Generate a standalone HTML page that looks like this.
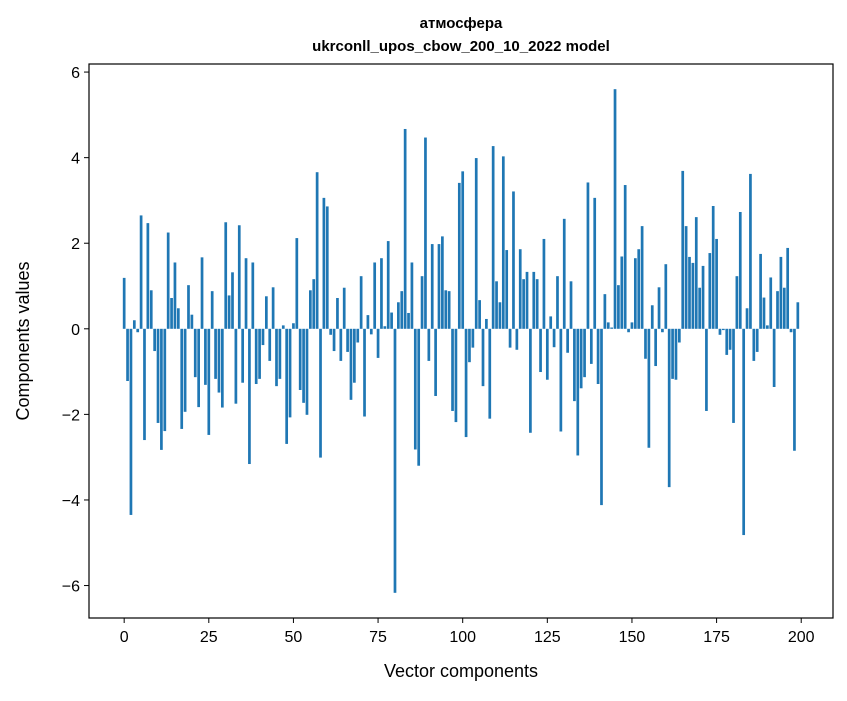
<!DOCTYPE html>
<html><head><meta charset="utf-8"><style>
body{margin:0;background:#fff;}
svg text{font-family:"Liberation Sans","DejaVu Sans",sans-serif;fill:#000;}
</style></head><body>
<svg id="chart" width="847" height="696" xmlns="http://www.w3.org/2000/svg">
<rect width="847" height="696" fill="#fff"/>
<text x="461" y="28" text-anchor="middle" font-size="15" font-weight="bold">атмосфера</text>
<text x="461" y="51" text-anchor="middle" font-size="15" font-weight="bold">ukrconll_upos_cbow_200_10_2022 model</text>
<g id="bars"></g>
<g id="xticks"></g>
<g id="yticks"></g>
<rect x="89" y="64" width="744" height="554" fill="none" stroke="#000" stroke-width="1.2"/>
<text x="461" y="677" text-anchor="middle" font-size="18">Vector components</text>
<text transform="translate(29,341) rotate(-90)" text-anchor="middle" font-size="18">Components values</text>
</svg>
<script>
const values = [
1.19,-1.22,-4.35,0.2,-0.08,2.65,-2.6,2.47,0.9,-0.52,
-2.2,-2.83,-2.39,2.25,0.72,1.55,0.48,-2.34,-1.94,1.02,
0.33,-1.13,-1.83,1.67,-1.31,-2.48,0.88,-1.17,-1.49,-1.84,
2.49,0.78,1.32,-1.75,2.42,-1.26,1.65,-3.16,1.55,-1.29,
-1.17,-0.38,0.76,-0.75,0.97,-1.34,-1.17,0.08,-2.69,-2.07,
0.13,2.12,-1.43,-1.73,-2.01,0.9,1.16,3.66,-3.01,3.06,
2.86,-0.14,-0.52,0.72,-0.75,0.96,-0.54,-1.66,-1.26,-0.32,
1.23,-2.05,0.32,-0.13,1.55,-0.68,1.65,0.06,2.05,0.38,
-6.17,0.62,0.88,4.67,0.37,1.55,-2.82,-3.2,1.23,4.47,
-0.75,1.98,-1.57,1.98,2.16,0.9,0.88,-1.92,-2.18,3.41,
3.68,-2.53,-0.78,-0.44,3.99,0.67,-1.34,0.23,-2.1,4.27,
1.11,0.62,4.03,1.84,-0.44,3.21,-0.49,1.86,1.16,1.33,
-2.43,1.33,1.16,-1.01,2.1,-1.19,0.29,-0.43,1.23,-2.4,
2.57,-0.56,1.11,-1.69,-2.96,-1.39,-1.13,3.42,-0.82,3.06,
-1.29,-4.12,0.81,0.15,0.03,5.6,1.02,1.69,3.36,-0.08,
0.15,1.65,1.86,2.4,-0.7,-2.78,0.55,-0.87,0.97,-0.08,
1.51,-3.7,-1.17,-1.19,-0.32,3.69,2.4,1.68,1.54,2.61,
0.96,1.47,-1.92,1.77,2.87,2.1,-0.14,-0.03,-0.61,-0.49,
-2.2,1.23,2.73,-4.82,0.48,3.62,-0.75,-0.54,1.75,0.73,
0.08,1.2,-1.36,0.88,1.68,0.96,1.89,-0.08,-2.85,0.62
];
const xTickValues = [0,25,50,75,100,125,150,175,200];
const yTickValues = [-6,-4,-2,0,2,4,6];

const NS = "http://www.w3.org/2000/svg";
const L=89,R=833,T=64,B=618;
const n = values.length;
const xmin = -0.4 - (n-0.2)*0.05, xmax = (n-1)+0.4 + (n-0.2)*0.05;
const vmin = Math.min(0,...values), vmax = Math.max(0,...values);
const ymin = vmin - (vmax-vmin)*0.05, ymax = vmax + (vmax-vmin)*0.05;
const xs = v => L + (v - xmin)/(xmax - xmin)*(R-L);
const ys = v => B - (v - ymin)/(ymax - ymin)*(B-T);

const bars = document.getElementById('bars');
values.forEach((v,i)=>{
  const r = document.createElementNS(NS,'rect');
  const x0 = xs(i-0.4), x1 = xs(i+0.4);
  const y0 = ys(Math.max(v,0)), y1 = ys(Math.min(v,0));
  r.setAttribute('x', x0); r.setAttribute('width', x1-x0);
  r.setAttribute('y', y0); r.setAttribute('height', Math.max(y1-y0,0.3));
  r.setAttribute('fill','#1f77b4');
  
  
  bars.appendChild(r);
});

const xg = document.getElementById('xticks');
xTickValues.forEach(t=>{
  const x = xs(t);
  const l = document.createElementNS(NS,'line');
  l.setAttribute('x1',x);l.setAttribute('x2',x);l.setAttribute('y1',B);l.setAttribute('y2',B+5);
  l.setAttribute('stroke','#000');
  
  
  xg.appendChild(l);
  const tx = document.createElementNS(NS,'text');
  tx.setAttribute('x',x);tx.setAttribute('y',B+24);tx.setAttribute('text-anchor','middle');tx.setAttribute('font-size','16');
  tx.textContent = t;
  
  
  xg.appendChild(tx);
});
const yg = document.getElementById('yticks');
yTickValues.forEach(t=>{
  const y = ys(t);
  const l = document.createElementNS(NS,'line');
  l.setAttribute('x1',L-5);l.setAttribute('x2',L);l.setAttribute('y1',y);l.setAttribute('y2',y);
  l.setAttribute('stroke','#000');
  
  
  yg.appendChild(l);
  const tx = document.createElementNS(NS,'text');
  tx.setAttribute('x',L-9);tx.setAttribute('y',y+6);tx.setAttribute('text-anchor','end');tx.setAttribute('font-size','16');
  tx.textContent = t<0 ? '\u2212'+Math.abs(t) : String(t);
  
  
  yg.appendChild(tx);
});
</script>
</body></html>
